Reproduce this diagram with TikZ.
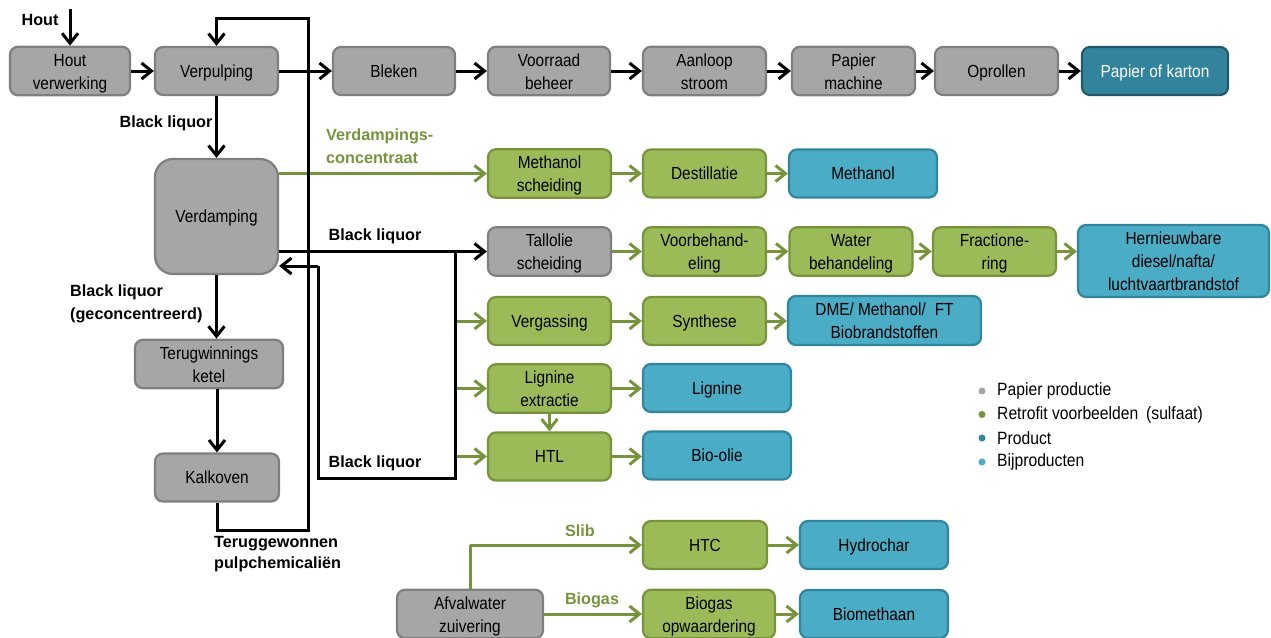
\documentclass[tikz,border=0pt]{standalone}
\usepackage{fontspec}
\setmainfont{Liberation Sans}
\newfontfamily\narrowfont[FakeStretch=0.88]{Liberation Sans}
\usetikzlibrary{arrows.meta}
\newcommand{\fls}{\rule{0pt}{18.5pt}}
\definecolor{gfill}{HTML}{9BBB59}
\definecolor{gline}{HTML}{77933C}
\definecolor{grfill}{HTML}{A6A6A6}
\definecolor{grline}{HTML}{7F7F7F}
\definecolor{bfill}{HTML}{4BACC6}
\definecolor{bline}{HTML}{31859C}
\definecolor{pfill}{HTML}{31849B}
\definecolor{pline}{HTML}{215968}
\tikzset{
  box/.style={rounded corners=8pt, line width=2.2pt, minimum height=48pt, align=center, inner sep=1pt, font=\narrowfont\fontsize{17.5}{23}\selectfont, execute at begin node={\rule[-5pt]{0pt}{22pt}}},
  gybox/.style={box, fill=grfill, draw=grline},
  gnbox/.style={box, fill=gfill, draw=gline},
  blbox/.style={box, fill=bfill, draw=bline},
  prbox/.style={box, fill=pfill, draw=pline, text=white},
  blk/.style={line width=3pt, -{Straight Barb[length=10pt,width=16pt]}},
  blkline/.style={line width=3pt},
  grarr/.style={draw=gline, line width=3pt, -{Straight Barb[length=10pt,width=16pt]}},
  grline/.style={draw=gline, line width=3pt},
  lbl/.style={font=\bfseries\fontsize{16.2}{23}\selectfont, align=left, inner sep=0pt},
  lgd/.style={font=\narrowfont\fontsize{17.8}{23}\selectfont, anchor=west, inner sep=0pt},
}
\begin{document}
\begin{tikzpicture}[x=1pt,y=-1pt]
\useasboundingbox (0,0) rectangle (1271,637);
% top row
\node[gybox, minimum width=120] (hv) at (70,71) {\fls Hout\\verwerking};
\node[gybox, minimum width=123] (vp) at (216.5,71) {Verpulping};
\node[gybox, minimum width=122] (bl) at (394,71) {Bleken};
\node[gybox, minimum width=122] (vb) at (549,71) {\fls Voorraad\\beheer};
\node[gybox, minimum width=123] (as) at (704.5,71) {\fls Aanloop\\stroom};
\node[gybox, minimum width=123] (pm) at (853.5,71) {\fls Papier\\machine};
\node[gybox, minimum width=123] (op) at (996.5,71) {Oprollen};
\node[prbox, minimum width=146] (pk) at (1155,71) {Papier of karton};
% left column
\node[gybox, minimum width=123, minimum height=115, rounded corners=18pt] (vd) at (216.5,216.5) {Verdamping};
\node[gybox, minimum width=148] (tk) at (209,364) {\fls Terugwinnings\\ketel};
\node[gybox, minimum width=124] (kk) at (217,477.5) {Kalkoven};
% row methanol
\node[gnbox, minimum width=123] (ms) at (549.5,173.5) {\fls Methanol\\scheiding};
\node[gnbox, minimum width=123] (de) at (704.5,173.5) {Destillatie};
\node[blbox, minimum width=148] (me) at (863,173.5) {Methanol};
% row tallolie
\node[gybox, minimum width=123] (ts) at (549.5,251.5) {\fls Tallolie\\scheiding};
\node[gnbox, minimum width=123] (vbh) at (704.5,251.5) {\fls Voorbehand-\\eling};
\node[gnbox, minimum width=123] (wb) at (851,251.5) {\fls Water\\behandeling};
\node[gnbox, minimum width=123] (fr) at (994.5,251.5) {\fls Fractione-\\ring};
\node[blbox, minimum width=191, minimum height=72] (hd) at (1173.5,261) {\fls Hernieuwbare\\diesel/nafta/\\luchtvaartbrandstof};
% row vergassing
\node[gnbox, minimum width=123] (vg) at (549.5,321) {Vergassing};
\node[gnbox, minimum width=123] (sy) at (704.5,321) {Synthese};
\node[blbox, minimum width=193, minimum height=49] (dme) at (884.5,320.5) {\fls DME/ Methanol/\hspace{9pt}FT\\Biobrandstoffen};
% row lignine
\node[gnbox, minimum width=123] (le) at (549.5,388.5) {\fls Lignine\\extractie};
\node[blbox, minimum width=148] (li) at (717,388) {Lignine};
% row HTL
\node[gnbox, minimum width=123] (htl) at (549.5,456.5) {HTL};
\node[blbox, minimum width=148] (bo) at (717,455.5) {Bio-olie};
% bottom
\node[gybox, minimum width=146] (az) at (470,614) {\fls Afvalwater\\zuivering};
\node[gnbox, minimum width=124] (htc) at (705,545) {HTC};
\node[gnbox, minimum width=132] (bio) at (709,614) {\fls Biogas\\opwaardering};
\node[blbox, minimum width=148] (hyc) at (874,545) {Hydrochar};
\node[blbox, minimum width=148] (bme) at (874,614) {Biomethaan};

% coordinates
\coordinate (hin) at (70,9);
\coordinate (j1) at (455,251.5);
\coordinate (j2) at (455,478);
\coordinate (j3) at (318,478);
\coordinate (j4) at (318,266);
\coordinate (r2) at (308,530);
\coordinate (r3) at (308,18);
\coordinate (s1) at (470,545);

% green connectors
\draw[grarr] (vd.east |- ms.west) -- (ms.west);
\draw[grarr] (ms) -- (de);
\draw[grarr] (de) -- (me);
\draw[grarr] (ts) -- (vbh);
\draw[grarr] (vbh) -- (wb);
\draw[grarr] (wb) -- (fr);
\draw[grarr] (fr.east) -- (hd.west |- fr.east);
\draw[grarr] (j1 |- vg.west) -- (vg.west);
\draw[grarr] (vg) -- (sy);
\draw[grarr] (sy.east) -- (dme.west |- sy.east);
\draw[grarr] (j1 |- le.west) -- (le.west);
\draw[grarr] (le.east) -- (li.west |- le.east);
\draw[grarr] (le.south) -- (htl.north);
\draw[grarr] (j1 |- htl.west) -- (htl.west);
\draw[grarr] (htl.east) -- (bo.west |- htl.east);
\draw[grline] (az.north) -- (s1);
\draw[grarr] (s1) -- (htc.west);
\draw[grarr] (az.east |- bio.west) -- (bio.west);
\draw[grarr] (htc) -- (hyc);
\draw[grarr] (bio) -- (bme);

% black connectors
\draw[blk] (hin) -- (hv.north);
\draw[blk] (hv) -- (vp);
\draw[blk] (vp) -- (bl);
\draw[blk] (bl) -- (vb);
\draw[blk] (vb) -- (as);
\draw[blk] (as) -- (pm);
\draw[blk] (pm) -- (op);
\draw[blk] (op) -- (pk);
\draw[blk] (vp) -- (vd);
\draw[blk] (vd.south) -- (vd.south |- tk.north);
\draw[blk] (tk.south -| kk.north) -- (kk.north);
\draw[blk] (kk.south) -- (kk.south |- r2) -- (r2) -- (r3) -- (vp.north |- r3) -- (vp.north);
\draw[blk] (vd.east |- ts.west) -- (ts.west);
\draw[blkline] (j1) -- (j2) -- (j3) -- (j4);
\draw[blk] (j4) -- (vd.east |- j4);

% labels
\node[lbl] (lhout) at (40,20) {Hout};
\node[lbl] (lbl1) at (166,123) {Black liquor};
\node[lbl, text=gline, anchor=west] (lvc) at (326,146) {Verdampings-\\concentraat};
\node[lbl] (lbl2) at (375,236) {Black liquor};
\node[lbl, anchor=west] (lbl3) at (70,304) {Black liquor\\(geconcentreerd)};
\node[lbl] (lbl4) at (375,463) {Black liquor};
\node[lbl, anchor=north west, font=\bfseries\fontsize{16.2}{21}\selectfont] (ltp) at (214,536) {Teruggewonnen\\pulpchemicaliën};
\node[lbl, text=gline] (lslib) at (580,531) {Slib};
\node[lbl, text=gline] (lbg) at (592,600) {Biogas};

% legend
\fill[grfill] (982,391) circle (3.5);
\fill[gline] (982,414.5) circle (3.5);
\fill[pfill] (982,438) circle (3.5);
\fill[bfill] (982,462) circle (3.5);
\node[lgd] (lg1) at (997,391) {Papier productie};
\node[lgd] (lg2) at (997,414.5) {Retrofit voorbeelden\hspace{8pt}(sulfaat)};
\node[lgd] (lg3) at (997,438) {Product};
\node[lgd] (lg4) at (997,462) {Bijproducten};
\end{tikzpicture}
\end{document}
